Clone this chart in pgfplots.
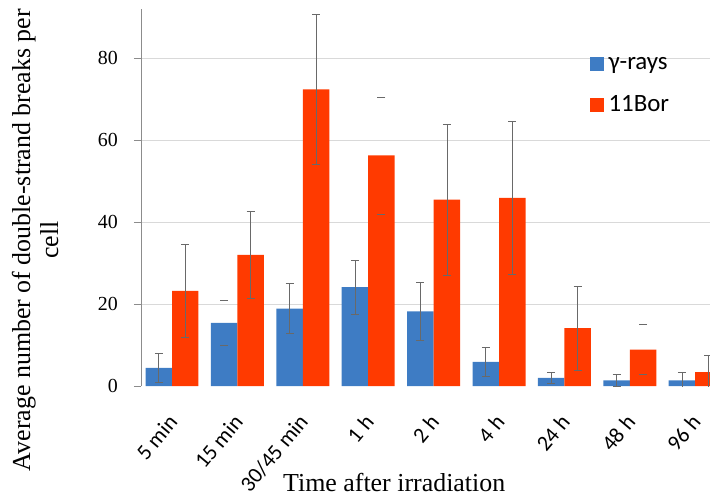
\documentclass[border=0pt]{standalone}
\usepackage{pgfplots}
\pgfplotsset{compat=1.18}
\usepackage{fontspec}
\setmainfont{Liberation Serif}
\newfontfamily\calibri{Carlito}
\definecolor{bluM}{RGB}{62,124,196}
\definecolor{redM}{RGB}{255,58,0}
\definecolor{errc}{RGB}{105,105,105}
\definecolor{gridc}{RGB}{217,217,217}
\definecolor{axc}{RGB}{140,140,140}
\begin{document}
\begin{tikzpicture}
\begin{axis}[
  name=ax,
  scale only axis, width=569bp, height=377bp,
  xmin=-0.474, xmax=8.226, ymin=0, ymax=92,
  axis lines=left, axis line style={-},
  x axis line style={draw=none},
  y axis line style={draw=axc, line width=0.8pt},
  xtick={0,...,8},
  xticklabels={5 min,15 min,30/45 min,1 h,2 h,4 h,24 h,48 h,96 h},
  x tick style={draw=none},
  ytick={20,40,60,80}, extra y ticks={0}, extra tick style={grid=none},
  ymajorgrids, grid style={gridc, line width=0.8pt},
  y tick style={draw=axc, line width=0.8pt}, tick align=outside, major tick length=7bp,
  /pgf/number format/assume math mode=true,
  yticklabel style={font=\fontsize{20}{24}\selectfont, inner sep=0pt, xshift=-16bp},
  xticklabel style={font=\calibri\fontsize{22}{24}\selectfont, inner sep=0pt, xshift=1bp, yshift=-25bp, rotate=50, anchor=east},
  ylabel={Average number of double-strand breaks per\\cell},
  ylabel style={align=center, font=\fontsize{26}{28}\selectfont, inner sep=0pt,
    at={(axis description cs:-0.186,0.387)}, anchor=center},
  xlabel={Time after irradiation},
  xlabel style={font=\fontsize{26}{28}\selectfont, inner sep=0pt,
    at={(axis description cs:0.445,-0.279)}, anchor=base},
  legend style={at={(axis description cs:0.789,0.873)}, anchor=north west, draw=none, fill=none,
    font=\calibri\fontsize{25}{27}\selectfont, row sep=25bp, inner sep=0pt, nodes={inner xsep=5bp, inner ysep=0pt}},
  legend cell align=left,
]
% gamma-rays bars
\addplot[ybar, bar width=0.405, bar shift=-0.2025, draw=none, fill=bluM, forget plot]
  coordinates {(0,4.4) (1,15.4) (2,18.9) (3,24.1) (4,18.2) (5,5.9) (6,2.0) (7,1.4) (8,1.4)};
% 11Bor bars
\addplot[ybar, bar width=0.405, bar shift=0.2025, draw=none, fill=redM, forget plot]
  coordinates {(0,23.2) (1,32.0) (2,72.4) (3,56.3) (4,45.5) (5,45.9) (6,14.1) (7,8.9) (8,3.4)};
% error bars gamma-rays
\addplot[draw=none, mark=none, forget plot,
  error bars/.cd, y dir=both, y explicit,
  error bar style={errc, line width=0.7pt}, error mark=-, error mark options={errc, line width=0.7pt, mark size=4bp, rotate=90}]
  coordinates {(-0.2025,4.4) +- (0,3.5) (1.7975,18.9) +- (0,6.1) (2.7975,24.1) +- (0,6.5)
    (3.7975,18.2) +- (0,7.0) (4.7975,5.9) +- (0,3.6) (5.7975,2.0) +- (0,1.4)
    (6.7975,1.4) +- (0,1.4) (7.7975,1.4) +- (0,2.0)};
% error bars 11Bor
\addplot[draw=none, mark=none, forget plot,
  error bars/.cd, y dir=both, y explicit,
  error bar style={errc, line width=0.7pt}, error mark=-, error mark options={errc, line width=0.7pt, mark size=4bp, rotate=90}]
  coordinates {(0.2025,23.2) +- (0,11.3) (1.2025,32.0) +- (0,10.5) (2.2025,72.4) +- (0,18.2)
    (4.2025,45.5) +- (0,18.4) (5.2025,45.9) +- (0,18.7) (6.2025,14.1) +- (0,10.3)
    (8.2025,3.4) +- (0,4.1)};
% caps only (partly hidden error bars)
\addplot[only marks, mark=-, mark size=4bp, mark options={errc, line width=0.7pt}, forget plot]
  coordinates {(0.7975,20.9) (0.7975,9.8) (3.2025,70.5) (3.2025,41.9) (7.2025,15.0) (7.2025,2.8)};
\addlegendimage{legend image code/.code={\fill[bluM] (0bp,-6.5bp) rectangle (13bp,6.5bp);}}
\addlegendentry{γ-rays}
\addlegendimage{legend image code/.code={\fill[redM] (0bp,-6.5bp) rectangle (13bp,6.5bp);}}
\addlegendentry{11Bor}
\end{axis}
\pgfresetboundingbox
\path ([xshift=-141bp,yshift=-111bp]ax.south west) rectangle ([yshift=9bp]ax.north east);
\end{tikzpicture}
\end{document}
